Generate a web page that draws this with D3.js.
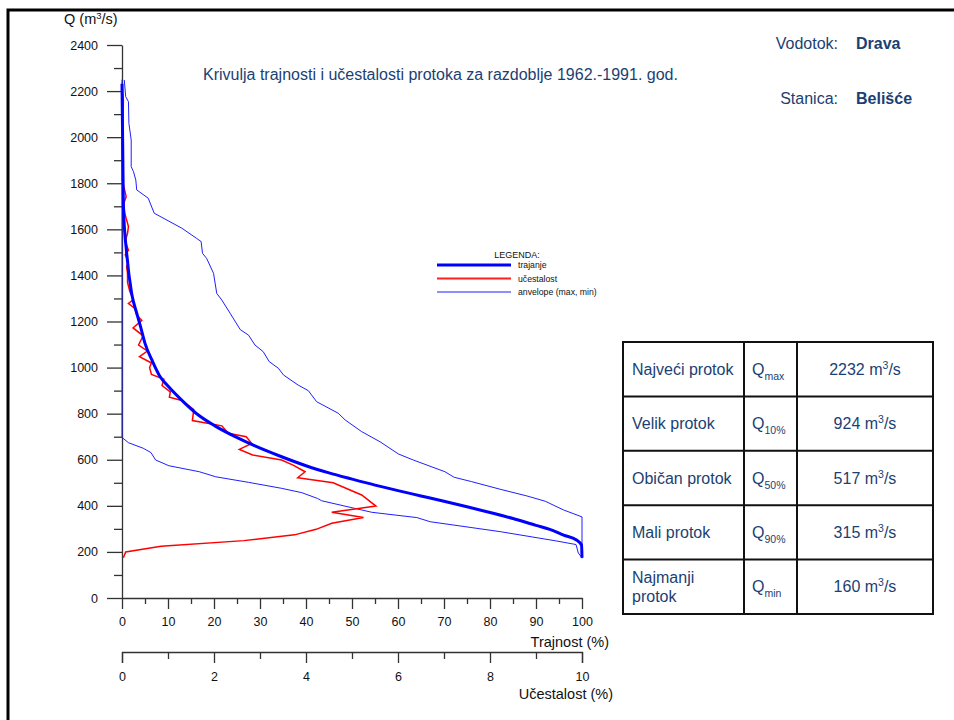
<!DOCTYPE html>
<html><head><meta charset="utf-8">
<script src="https://cdn.jsdelivr.net/npm/d3@7"></script>
<style>
html,body{margin:0;padding:0;background:#fff;}
svg{display:block;font-family:"Liberation Sans",Arial,sans-serif;}
</style></head>
<body>
<svg id="c" width="954" height="720"></svg>
<script>
// ---------- DATA ----------
// Duration curve (trajanje): duration % and discharge Q (m3/s)
const trajanjePct = [0, 0.3, 1.0, 2.1, 3.2, 4.0, 5.0, 6.5, 8.3, 10, 13.7, 16.6, 20.2, 24.6, 28.9, 34.7, 40, 45, 50, 55, 60, 65, 70, 75, 80, 85, 90, 93, 96, 98.8, 99.9, 100];
const trajanjeQ   = [2232, 1700, 1500, 1322, 1236, 1180, 1105, 1033, 960, 920, 845, 794, 747, 700, 660, 613, 574, 543, 516, 490, 466, 443, 420, 396, 371, 345, 315, 298, 273, 252, 230, 175];

// Envelope max
const envMaxPct = [0.5, 0.8, 1.4, 1.5, 2.0, 2.0, 2.5, 3.0, 3.2, 5.7, 7.0, 13.0, 16.2, 17.2, 17.5, 18.4, 19.9, 20.6, 21.7, 23.5, 25.7, 27.5, 28.9, 30.7, 32, 34, 35.1, 38.3, 40.5, 42.3, 47, 48.5, 52.1, 56.1, 60.1, 63.3, 70.2, 72.2, 76, 82.2, 88, 92, 96, 100, 100];
const envMaxQ   = [2248, 2176, 2154, 2060, 1988, 1872, 1850, 1814, 1771, 1735, 1670, 1605, 1561, 1547, 1496, 1474, 1409, 1322, 1293, 1236, 1165, 1141, 1098, 1069, 1026, 997, 968, 924, 900, 852, 802, 773, 722, 678, 625, 599, 548, 524, 505, 472, 443, 420, 382, 352, 172];

// Envelope min
const envMinPct = [0, 0, 1.4, 4.6, 6.3, 7.3, 10.2, 16.8, 20.4, 27.5, 34.7, 39.1, 42.5, 43.4, 54.3, 64.1, 67, 82.2, 94.3, 98.7, 99.2, 100];
const envMinQ   = [2250, 697, 674, 650, 631, 599, 574, 548, 526, 502, 476, 457, 432, 422, 372, 349, 331, 288, 248, 232, 195, 175];

// Frequency curve (ucestalost): frequency % and Q
const ucestQ   = [175, 200, 225, 249, 274, 298, 324, 349, 372, 399, 447, 500, 522, 548, 577, 599, 621, 645, 671, 700, 715, 747, 755, 770, 818, 857, 871, 895, 922, 950, 970, 1000, 1020, 1047, 1072, 1098, 1138, 1172, 1205, 1228, 1257, 1278, 1295, 1330, 1370, 1409, 1438, 1460, 1489, 1510, 1547, 1583, 1612, 1641, 1670, 1713, 1742, 1785, 1814, 1959, 2161, 2232];
const ucestPct = [0.03, 0.08, 0.85, 2.65, 3.75, 4.22, 4.56, 5.25, 4.56, 5.52, 5.21, 4.59, 3.82, 3.98, 3.72, 3.47, 2.84, 2.55, 2.82, 2.70, 2.31, 2.17, 1.95, 1.53, 1.56, 1.30, 1.03, 1.05, 0.87, 0.91, 0.64, 0.60, 0.64, 0.38, 0.55, 0.36, 0.46, 0.24, 0.43, 0.32, 0.28, 0.14, 0.25, 0.17, 0.12, 0.12, 0.10, 0.14, 0.07, 0.14, 0.07, 0.12, 0.14, 0.10, 0.06, 0.04, 0.09, 0.04, 0.01, 0.01, 0.03, 0.0];

// Axis ticks
const qTicks = [0, 200, 400, 600, 800, 1000, 1200, 1400, 1600, 1800, 2000, 2200, 2400];
const trajTicks = [0, 10, 20, 30, 40, 50, 60, 70, 80, 90, 100];
const ucestTicks = [0, 2, 4, 6, 8, 10];

// Table
const tableNames = [["Najveći protok"], ["Velik protok"], ["Običan protok"], ["Mali protok"], ["Najmanji", "protok"]];
const tableSubs  = ["max", "10%", "50%", "90%", "min"];
const tableVals  = [2232, 924, 517, 315, 160];

// Legend
const legendLabels = ["trajanje", "učestalost", "anvelope (max, min)"];

// ---------- DRAW ----------
const svg = d3.select("#c");
const navy = "#1b3f73";
const axisCol = "#333";
const FONT = '"Liberation Sans", Arial, sans-serif';

// frame
svg.append("rect").attr("x", 8).attr("y", 10).attr("width", 1000).attr("height", 800)
  .attr("fill", "none").attr("stroke", "#000").attr("stroke-width", 3);

const x = d3.scaleLinear().domain([0, 100]).range([122, 582]);
const xf = d3.scaleLinear().domain([0, 10]).range([122, 582]);
const y = d3.scaleLinear().domain([0, 2400]).range([598, 45]);

function styleAxis(g) {
  g.attr("font-family", null).attr("font-size", null);
  g.selectAll("path.domain").attr("stroke", axisCol).attr("stroke-width", 1.3);
  g.selectAll(".tick line").attr("stroke", axisCol).attr("stroke-width", 1.3);
  g.selectAll(".tick text").attr("fill", "#111").style("font-size", "12.5px").style("font-family", FONT);
}
const fmt = d3.format("d");

// Y axis
const gyMinor = svg.append("g").attr("transform", "translate(122,0)")
  .call(d3.axisLeft(y).tickValues(d3.range(100, 2400, 200)).tickSize(8).tickFormat(""));
styleAxis(gyMinor);
gyMinor.select("path.domain").remove();
const gy = svg.append("g").attr("transform", "translate(122,0)")
  .call(d3.axisLeft(y).tickValues(qTicks).tickFormat(fmt).tickSize(15).tickSizeOuter(0).tickPadding(9));
styleAxis(gy);

// Trajnost axis
const gxMinor = svg.append("g").attr("transform", "translate(0,598)")
  .call(d3.axisBottom(x).tickValues(d3.range(5, 100, 10)).tickSize(6).tickFormat(""));
styleAxis(gxMinor);
gxMinor.select("path.domain").remove();
const gx = svg.append("g").attr("transform", "translate(0,598)")
  .call(d3.axisBottom(x).tickValues(trajTicks).tickFormat(fmt).tickSize(11).tickSizeOuter(0).tickPadding(8));
styleAxis(gx);

// Ucestalost axis
const gfMinor = svg.append("g").attr("transform", "translate(0,652)")
  .call(d3.axisBottom(xf).tickValues(d3.range(1, 10, 2)).tickSize(7).tickFormat(""));
styleAxis(gfMinor);
gfMinor.select("path.domain").remove();
const gf = svg.append("g").attr("transform", "translate(0,652)")
  .call(d3.axisBottom(xf).tickValues(ucestTicks).tickFormat(fmt).tickSize(11).tickSizeOuter(11).tickPadding(9));
styleAxis(gf);

// axis titles
const yt = svg.append("text").attr("x", 64).attr("y", 24).attr("fill", "#111").style("font-size", "14.5px");
yt.append("tspan").text("Q (m");
yt.append("tspan").attr("dy", -5).style("font-size", "9.5px").text("3");
yt.append("tspan").attr("dy", 5).text("/s)");
svg.append("text").attr("x", 609).attr("y", 647).attr("text-anchor", "end").attr("fill", "#111")
  .style("font-size", "14.5px").text("Trajnost (%)");
svg.append("text").attr("x", 613).attr("y", 699).attr("text-anchor", "end").attr("fill", "#111")
  .style("font-size", "14.5px").text("Učestalost (%)");

// Title & info
svg.append("text").attr("x", 203).attr("y", 80).attr("fill", navy).style("font-size", "16px")
  .text("Krivulja trajnosti i učestalosti protoka za razdoblje 1962.-1991. god.");
svg.append("text").attr("x", 838).attr("y", 49).attr("text-anchor", "end").attr("fill", navy).style("font-size", "16px").text("Vodotok:");
svg.append("text").attr("x", 856).attr("y", 49).attr("fill", navy).style("font-size", "16px").style("font-weight", "bold").text("Drava");
svg.append("text").attr("x", 838).attr("y", 104).attr("text-anchor", "end").attr("fill", navy).style("font-size", "16px").text("Stanica:");
svg.append("text").attr("x", 856).attr("y", 104).attr("fill", navy).style("font-size", "16px").style("font-weight", "bold").text("Belišće");

// Curves
const lineP = d3.line().x(d => x(d[0])).y(d => y(d[1]));
const lineF = d3.line().x(d => xf(d[0])).y(d => y(d[1]));
const plot = svg.append("g");
plot.append("path").datum(envMaxPct.map((p, i) => [p, envMaxQ[i]])).attr("d", lineP)
  .attr("fill", "none").attr("stroke", "#1f1fff").attr("stroke-width", 1);
plot.append("path").datum(envMinPct.map((p, i) => [p, envMinQ[i]])).attr("d", lineP)
  .attr("fill", "none").attr("stroke", "#1f1fff").attr("stroke-width", 1);
plot.append("path").datum(ucestPct.map((p, i) => [p, ucestQ[i]])).attr("d", lineF)
  .attr("fill", "none").attr("stroke", "#ff0000").attr("stroke-width", 1.5).attr("stroke-linejoin", "miter");
plot.append("path").datum(trajanjePct.map((p, i) => [p, trajanjeQ[i]]))
  .attr("d", d3.line().x(d => x(d[0])).y(d => y(d[1])).curve(d3.curveMonotoneX))
  .attr("fill", "none").attr("stroke", "#0000ff").attr("stroke-width", 3);

// Legend
const lg = svg.append("g");
lg.append("text").attr("x", 517).attr("y", 258).attr("text-anchor", "middle").attr("fill", "#111")
  .style("font-size", "9px").text("LEGENDA:");
const legStyles = [{c: "#0000ff", w: 3}, {c: "#ff2020", w: 2}, {c: "#1f1fff", w: 1}];
legendLabels.forEach((l, i) => {
  const ly = 265 + i * 13.5;
  lg.append("line").attr("x1", 437).attr("x2", 511).attr("y1", ly).attr("y2", ly)
    .attr("stroke", legStyles[i].c).attr("stroke-width", legStyles[i].w);
  lg.append("text").attr("x", 518).attr("y", ly + 3).attr("fill", "#111").style("font-size", "8.7px").text(l);
});

// Table
const tx = [623, 744, 797, 933];
const rowH = 54.4, ty0 = 342;
const tg = svg.append("g");
tableNames.forEach((nm, i) => {
  const cy = ty0 + rowH * i + rowH / 2;
  const t = tg.append("text").attr("x", 632).attr("fill", navy).style("font-size", "16px");
  if (nm.length === 1) {
    t.attr("y", cy + 5.5).text(nm[0]);
  } else {
    t.attr("y", cy - 4).text(nm[0]);
    tg.append("text").attr("x", 632).attr("y", cy + 15).attr("fill", navy).style("font-size", "16px").text(nm[1]);
  }
  const q = tg.append("text").attr("x", 752).attr("y", cy + 5.5).attr("fill", navy).style("font-size", "16px");
  q.append("tspan").text("Q");
  q.append("tspan").attr("dy", 5).style("font-size", "10.5px").text(tableSubs[i]);
  const v = tg.append("text").attr("x", 865).attr("y", cy + 5.5).attr("text-anchor", "middle").attr("fill", navy).style("font-size", "16px");
  v.append("tspan").text(tableVals[i] + " m");
  v.append("tspan").attr("dy", -6).style("font-size", "10.5px").text("3");
  v.append("tspan").attr("dy", 6).text("/s");
});
for (let i = 0; i <= 5; i++) {
  tg.append("line").attr("x1", tx[0] - 1).attr("x2", tx[3] + 1).attr("y1", ty0 + rowH * i).attr("y2", ty0 + rowH * i)
    .attr("stroke", "#111").attr("stroke-width", 2);
}
tx.forEach(cx => {
  tg.append("line").attr("x1", cx).attr("x2", cx).attr("y1", ty0).attr("y2", ty0 + rowH * 5)
    .attr("stroke", "#111").attr("stroke-width", 2);
});
</script>
</body></html>
